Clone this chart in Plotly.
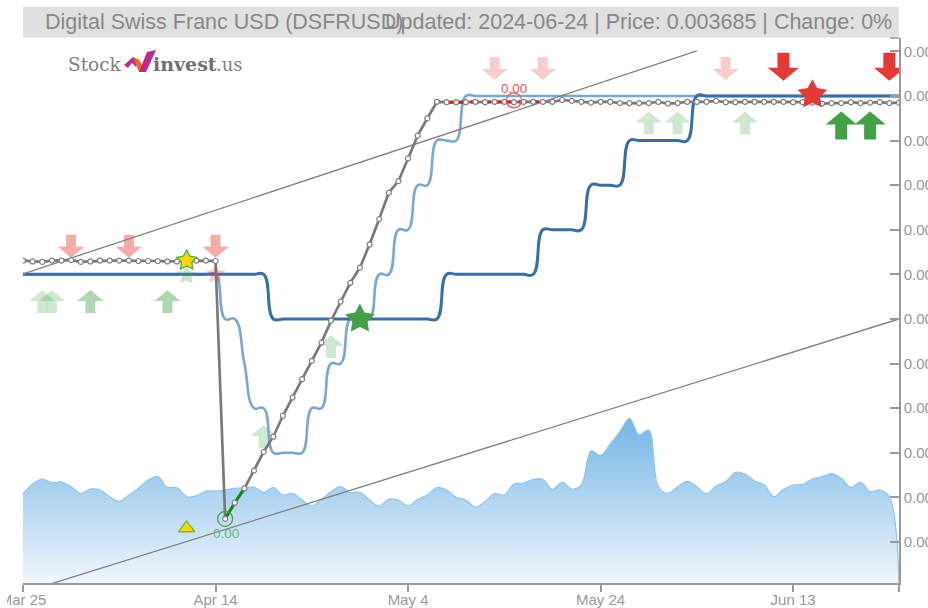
import math
import plotly.graph_objects as go
import pandas as pd

dates = pd.date_range("2024-03-25", "2024-06-24", freq="D")
def D(i):
    return dates[i].strftime("%Y-%m-%d")

# all prices in millionths of a dollar
price = [3331,3329,3328,3331,3331,3332,3328,3329,3331,3331,3331,3331,3330,3330,3330,3329,3329,3330,3331,3331,3330,
         2752,2788,2820,2860,2902,2936,2983,3024,3065,3106,3147,3196,3239,3281,3315,3367,3424,3483,3509,3560,3611,3650,3687,
         3686,3686,3686,3687,3686,3687,3687,3686,3687,3687,3687,
         3687,3691,3689,3687,3685,3687,3687,3684,3684,3684,3684,3687,3683,3684,3687,3687,3687,3689,3686,3686,3687,3687,3687,3687,3687,3686,3686,3685,3683,3684,3684,3686,3684,3685,3686,3684,3685]
slow_levels = [3300]*26 + [3200]*18 + [3300]*10 + [3400]*5 + [3500]*4 + [3600]*7 + [3700]*22
fast_levels = ([3300]*21 + [3200]*2 + [3100] + [3000]*2 + [2900]*4 + [3000]*2 + [3100]*2 + [3200]*3 +
               [3300]*2 + [3400]*2 + [3500]*2 + [3600]*3 + [3700]*46)
volume = [89.7,99,104,100.3,101,96.3,89.7,94,93,86.3,81.7,88,94.7,103,106.3,95.7,95.3,86.3,87.3,92,92,93,94.7,95.3,95.7,
          90.7,95.3,88,89.7,83,77,83.7,91.3,96.3,90.3,90.7,83,77,83.7,83,77,83.7,88,95.3,93,85.7,83,
          75.7,81.3,89.3,88,99,100,103.7,103.7,93.7,101,94,98,132,127.7,139,151.3,164.7,148.3,153,96.3,89.7,96.3,101.7,96.3,
          89.3,97,101.3,110.7,109,102,98,86.3,93.7,98,98.7,104,106.3,109.3,104.7,95.7,101,91.3,93,86.3,0]
upper_channel_dates = ["2024-03-25", "2024-06-03"]
upper_channel = [3301, 3801]
lower_channel_dates = ["2024-03-27", "2024-06-24"]
lower_channel = [2600, 3200]

tick_prices = [3800,3700,3600,3500,3400,3300,3200,3100,3000,2900,2800,2700]
tick_dates = ["2024-03-25","2024-04-14","2024-05-04","2024-05-24","2024-06-13","2024-06-24"]
tick_date_labels = ["Mar 25","Apr 14","May 4","May 24","Jun 13",""]

# signal arrows: day index, tip price
sell_faint_i, sell_faint_p = [49,54,73], [3736,3736,3736]
sell_mid_i, sell_mid_p = [5,11,20], [3337,3337,3337]
sell_strong_i, sell_strong_p = [79,90], [3734,3734]
buy_faint_i, buy_faint_p = [2,3,25,32,65,68,75], [3265,3265,2962,3164,3665,3665,3665]
buy_mid_i, buy_mid_p = [7,15], [3265,3265]
buy_strong_i, buy_strong_p = [85,88], [3665,3665]

W, H = 928, 608
L, R, T, B = 23, 899, 38, 583

def scale(a):
    return [v*1e-6 for v in a]

def px(x): return (x-L)/(R-L)
def py(y): return (B-y)/(B-T)

fig = go.Figure()
x = list(dates)
fig.add_trace(go.Scatter(x=x, y=volume, yaxis="y", mode="lines", line=dict(color="#93c5ea", width=1.2, shape="spline"),
    fill="tozeroy", fillgradient=dict(type="vertical", colorscale=[[0,"#f0f6fd"],[1,"#74b5e6"]]), hoverinfo="skip"))
Y = "y2"
def line(xs, ys, **kw):
    fig.add_trace(go.Scatter(x=xs, y=scale(ys), yaxis=Y, mode="lines", line=kw, hoverinfo="skip", cliponaxis=False))

line(x, fast_levels, color="#7ba7d2", width=2.6, shape="spline", smoothing=1.3)
line(x, slow_levels, color="#3a6ea6", width=3, shape="spline", smoothing=1.3)
line(upper_channel_dates, upper_channel, color="#808080", width=1.3)
line(lower_channel_dates, lower_channel, color="#808080", width=1.3)
line(x, price, color="#7a7a7a", width=2.7)
line(x[21:24], price[21:24], color="#138a13", width=3)
line(x[44:55], price[44:55], color="#f01010", width=3, dash="8px,4px")
fig.add_trace(go.Scatter(x=x, y=scale(price), yaxis=Y, mode="markers", hoverinfo="skip",
    marker=dict(size=5, color="white", line=dict(color="#808080", width=1.2))))

def mark(i, p, sym, size, color, lc=None, lw=0, op=1):
    fig.add_trace(go.Scatter(x=[dates[i]], y=scale([p]), yaxis=Y, mode="markers", hoverinfo="skip", cliponaxis=False,
        marker=dict(symbol=sym, size=size, color=color, opacity=op, line=dict(color=lc or color, width=lw))))

mark(17, 2731, "triangle-up", 14, "#ffd600", "#7cb342", 1.5)
mark(21, 2752, "circle-open", 15, "#43a047", "#43a047", 1.2)
mark(51, 3690, "circle-open", 15, "#ef5350", "#ef5350", 1.2)

shapes = []
def arrow(i, tip, up, w, h, sw, hh, color, op):
    s = -1 if up else 1   # pixel y grows upward: body lies on this side of the tip
    path = (f"M0,0 L{w/2},{s*hh} L{sw/2},{s*hh} L{sw/2},{s*h} L{-sw/2},{s*h} L{-sw/2},{s*hh} L{-w/2},{s*hh} Z")
    shapes.append(dict(type="path", xref="x", yref="y2", xsizemode="pixel", ysizemode="pixel",
                       xanchor=D(i), yanchor=tip*1e-6, path=path, fillcolor=color, opacity=op,
                       line=dict(width=0), layer="below"))
for i,p in zip(sell_faint_i, sell_faint_p): arrow(i,p,False,26,23,10,11,"#e53935",0.25)
for i,p in zip(sell_mid_i, sell_mid_p): arrow(i,p,False,26,23,10,11,"#e53935",0.42)
for i,p in zip(sell_strong_i, sell_strong_p): arrow(i,p,False,31,28,12,13,"#e53935",1)
for i,p in zip(buy_faint_i, buy_faint_p): arrow(i,p,True,26,23,10,11,"#43a047",0.25)
for i,p in zip(buy_mid_i, buy_mid_p): arrow(i,p,True,26,23,10,11,"#43a047",0.42)
for i,p in zip(buy_strong_i, buy_strong_p): arrow(i,p,True,31,28,12,13,"#43a047",1)

def star(i, p, r, color, lc=None, lw=0, op=1):
    pts = []
    for k in range(10):
        rad = r if k % 2 == 0 else r*0.52
        a = math.pi/2 + k*math.pi/5
        pts.append(f"{rad*math.cos(a):.2f},{rad*math.sin(a):.2f}")
    path = "M" + " L".join(pts) + " Z"
    shapes.append(dict(type="path", xref="x", yref="y2", xsizemode="pixel", ysizemode="pixel",
                       xanchor=D(i), yanchor=p*1e-6, path=path, fillcolor=color, opacity=op,
                       line=dict(width=lw, color=lc or color), layer="above"))
star(17, 3298, 10, "#43a047", op=0.28)
star(20, 3300, 10, "#e53935", op=0.28)
star(17, 3331, 10.5, "#ffd600", "#4caf50", 1.3)
star(35, 3200, 15.5, "#43a047")
star(82, 3703, 15.5, "#e53935")

def poly(points, color, layer="above", op=1):
    d = "M" + " L".join(f"{px(a):.5f},{py(b):.5f}" for a,b in points) + " Z"
    shapes.append(dict(type="path", xref="x domain", yref="y domain", path=d, fillcolor=color, line=dict(width=0), layer=layer, opacity=op))

# banner
shapes.append(dict(type="rect", xref="x domain", yref="y domain", x0=px(23), x1=px(899), y0=py(37.5), y1=py(7),
                   fillcolor="#e0e0e0", line=dict(width=0), layer="above"))
# top end tick of the y axis
shapes.append(dict(type="line", xref="x domain", yref="y domain", x0=px(890), x1=px(899), y0=1, y1=1,
                   line=dict(color="#999999", width=1.5), layer="above"))
# label cut at the left edge
shapes.append(dict(type="rect", xref="x domain", yref="y domain", x0=px(0), x1=px(7), y0=py(608), y1=py(590),
                   fillcolor="white", line=dict(width=0), layer="above"))
# logo mark
poly([(124,65),(133,57),(139,60),(136,67),(132,63),(128,68)], "#b5308f")
poly([(133,57),(139,60),(146,72),(139,72)], "#f26522")
poly([(139,72),(146,72),(156,50),(147,52)], "#c2278f")

annotations = []
def text(xp, yp, s, size, color, anchor="left", family="Liberation Sans"):
    annotations.append(dict(xref="x domain", yref="y domain", x=px(xp), y=py(yp), text=s, showarrow=False,
        xanchor=anchor, yanchor="middle", font=dict(size=size, color=color, family=family), align=anchor,
        xshift=0, borderpad=0, borderwidth=0))
text(45, 22.5, "Digital Swiss Franc USD (DSFRUSD)", 21.5, "#888888")
text(892, 22.5, "Updated: 2024-06-24 | Price: 0.003685 | Change: 0%", 21.5, "#888888", "right")
text(68, 64.5, "Stock", 18.5, "#808080", family="DejaVu Serif")
text(153, 64.5, "<b>invest</b>", 19, "#707070", family="DejaVu Serif")
text(216, 64.5, ".us", 18, "#808080", family="DejaVu Serif")
text(225.5, 533, "0.00", 13.5, "#66bb6a", "center")
text(513.5, 88, "0.00", 13.5, "#ef5350", "center")

fig.update_layout(
    width=W, height=H, margin=dict(l=L, r=W-R, t=T, b=H-B, pad=0), showlegend=False,
    paper_bgcolor="white", plot_bgcolor="white", shapes=shapes, annotations=annotations,
    font=dict(family="Liberation Sans", color="#999999", size=15),
    xaxis=dict(range=["2024-03-25","2024-06-24"], tickmode="array", tickvals=tick_dates, ticktext=tick_date_labels, automargin=False,
               ticks="outside", ticklen=7, tickwidth=1.5, tickcolor="#999999", showgrid=False, zeroline=False,
               ticklabeloverflow="allow", ticklabelstandoff=-5,
               showline=True, linecolor="#999999", linewidth=1.5, tickfont=dict(size=15, color="#999999")),
    yaxis=dict(range=[0,545], visible=False, fixedrange=True, automargin=False),
    yaxis2=dict(overlaying="y", side="right", anchor="x", range=[2608e-6,3830e-6], tickmode="array", tickvals=scale(tick_prices), automargin=False,
                tickformat=".2f", ticks="inside", ticklen=9, tickwidth=1.5, tickcolor="#999999", showgrid=False, ticklabeloverflow="allow",
                zeroline=False, showline=True, linecolor="#999999", linewidth=1.5, tickfont=dict(size=15, color="#999999")),
)
fig.write_html("out.html", post_script="document.body.style.margin='0';", config=dict(displayModeBar=False))
